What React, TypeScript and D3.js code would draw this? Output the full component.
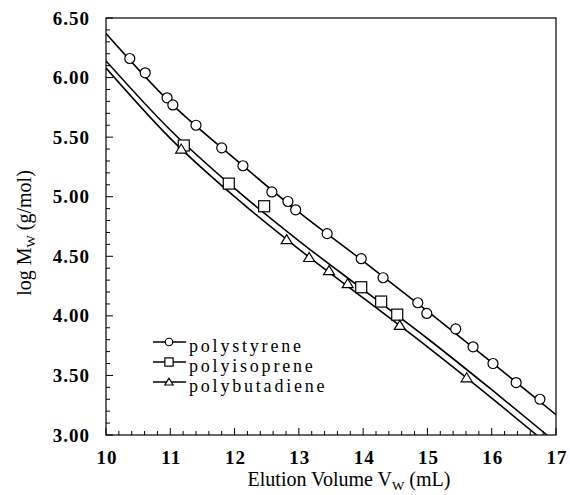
import React from 'react'
import * as d3 from 'd3'

// measured points (elution volume mL, log Mw)
const psX = [10.37, 10.61, 10.95, 11.04, 11.40, 11.80, 12.13, 12.58, 12.83, 12.95, 13.44, 13.97, 14.31, 14.85, 14.99, 15.44, 15.71, 16.02, 16.38, 16.75]
const psY = [6.16, 6.04, 5.83, 5.77, 5.60, 5.41, 5.26, 5.04, 4.96, 4.89, 4.69, 4.48, 4.32, 4.11, 4.02, 3.89, 3.74, 3.60, 3.44, 3.30]
const piX = [11.21, 11.91, 12.46, 13.97, 14.28, 14.53]
const piY = [5.43, 5.11, 4.92, 4.24, 4.12, 4.01]
const pbX = [11.17, 12.81, 13.16, 13.47, 13.76, 14.57, 15.61]
const pbY = [5.40, 4.64, 4.49, 4.38, 4.27, 3.92, 3.48]

// calibration curves
const psFitX = [10, 11, 12, 13, 14, 15, 16, 17]
const psFitY = [6.37, 5.79, 5.32, 4.87, 4.46, 4.04, 3.61, 3.17]
const piFitX = [10, 11, 12, 13, 14, 15, 16, 16.86]
const piFitY = [6.14, 5.56, 5.07, 4.63, 4.22, 3.81, 3.38, 3.0]
const pbFitX = [10, 11, 12, 13, 14, 15, 16, 16.7]
const pbFitY = [6.08, 5.49, 5.00, 4.56, 4.15, 3.74, 3.31, 3.0]

const xTicks = [10, 11, 12, 13, 14, 15, 16, 17]
const yTicks = [3.0, 3.5, 4.0, 4.5, 5.0, 5.5, 6.0, 6.5]
const legendNames = ['polystyrene', 'polyisoprene', 'polybutadiene']

const left = 106, right = 556, top = 18, bottom = 435
const serif = "'Liberation Serif', 'Times New Roman', Times, serif"

export default function App() {
    const x = d3.scaleLinear().domain([10, 17]).range([left, right])
    const y = d3.scaleLinear().domain([3, 6.5]).range([bottom, top])

    const line = d3.line<number[]>()
        .x(d => x(d[0]))
        .y(d => y(d[1]))
        .curve(d3.curveMonotoneX)

    const zip = (a: number[], b: number[]) => a.map((v, i) => [v, b[i]])

    const xMinor = d3.range(10, 17.001, 0.2)
    const yMinor = d3.range(3, 6.501, 0.1)

    // s = 1 for plot markers, smaller for legend
    const circle = (cx: number, cy: number, k: string, s = 1) =>
        <circle key={k} cx={cx} cy={cy} r={5 * s} fill='white' stroke='black' strokeWidth={1.2} />
    const square = (cx: number, cy: number, k: string, s = 1) =>
        <rect key={k} x={cx - 5.5 * s} y={cy - 5.5 * s} width={11 * s} height={11 * s} fill='white' stroke='black' strokeWidth={1.2} />
    const triangle = (cx: number, cy: number, k: string, s = 1) =>
        <path key={k} d={`M${cx},${cy - 5 * s}L${cx + 5.5 * s},${cy + 4 * s}L${cx - 5.5 * s},${cy + 4 * s}Z`} fill='white' stroke='black' strokeWidth={1.2} />

    const markers = [circle, square, triangle]
    const tickFont = { fontFamily: serif, fontWeight: 'bold', fontSize: 19, letterSpacing: 1 }

    return (
        <svg width={570} height={495} style={{ position: 'absolute', left: 0, top: 0, background: 'white' }}>
            <defs>
                <clipPath id='plot'>
                    <rect x={left} y={top} width={right - left} height={bottom - top} />
                </clipPath>
            </defs>

            <rect x={left} y={top} width={right - left} height={bottom - top} fill='none' stroke='black' strokeWidth={1.2} />

            {xMinor.map((v, i) => {
                const major = Math.abs(v - Math.round(v)) < 1e-6
                return <line key={'xm' + i} x1={x(v)} x2={x(v)} y1={bottom} y2={bottom - (major ? 7 : 4)} stroke='black' strokeWidth={1} />
            })}
            {yMinor.map((v, i) => {
                const major = Math.abs(v * 2 - Math.round(v * 2)) < 1e-6
                return <line key={'ym' + i} x1={left} x2={left + (major ? 7 : 4)} y1={y(v)} y2={y(v)} stroke='black' strokeWidth={1} />
            })}

            {xTicks.map(t => (
                <text key={'xt' + t} x={x(t) + 1} y={464} textAnchor='middle' style={tickFont}>{t}</text>
            ))}
            {yTicks.map(t => (
                <text key={'yt' + t} x={90} y={y(t) + 6.5} textAnchor='end' style={tickFont}>{t.toFixed(2)}</text>
            ))}

            <text x={349} y={486} textAnchor='middle' style={{ fontFamily: serif, fontSize: 20 }}>
                Elution Volume V<tspan fontSize={13} dy={4}>W</tspan><tspan dy={-4}> (mL)</tspan>
            </text>
            <text transform='translate(31,233) rotate(-90)' textAnchor='middle' style={{ fontFamily: serif, fontSize: 20 }}>
                log M<tspan fontSize={13} dy={4}>W</tspan><tspan dy={-4}> (g/mol)</tspan>
            </text>

            <g clipPath='url(#plot)' fill='none' stroke='black' strokeWidth={1.6}>
                <path d={line(zip(psFitX, psFitY)) || ''} />
                <path d={line(zip(piFitX, piFitY)) || ''} />
                <path d={line(zip(pbFitX, pbFitY)) || ''} />
            </g>

            {psX.map((v, i) => circle(x(v), y(psY[i]), 'c' + i))}
            {piX.map((v, i) => square(x(v), y(piY[i]), 's' + i))}
            {pbX.map((v, i) => triangle(x(v), y(pbY[i]), 't' + i))}

            {legendNames.map((name, i) => {
                const ly = 342 + i * 20
                return (
                    <g key={name}>
                        <line x1={153} x2={186} y1={ly} y2={ly} stroke='black' strokeWidth={1.4} />
                        {markers[i](169, ly, 'lm' + i, 0.75)}
                        <text x={189} y={ly + 10} style={{ fontFamily: serif, fontSize: 18, letterSpacing: 2.8 }}>{name}</text>
                    </g>
                )
            })}
        </svg>
    )
}
